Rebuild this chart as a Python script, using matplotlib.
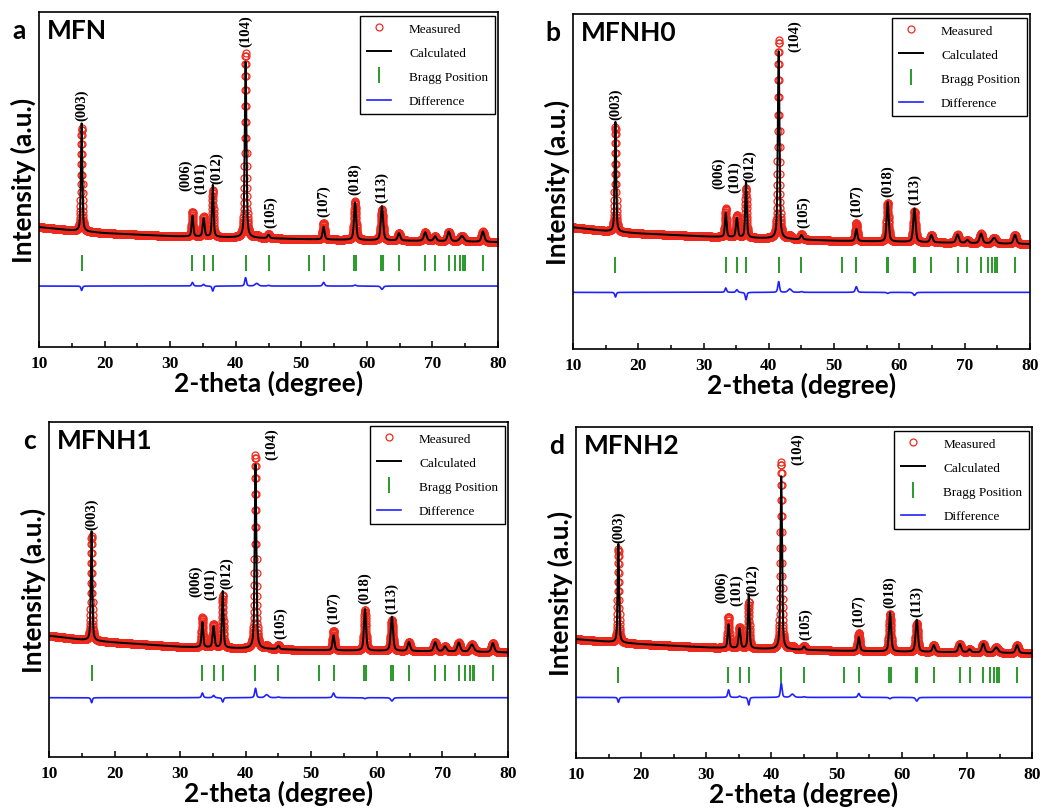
import numpy as np
import matplotlib.pyplot as plt
from matplotlib.ticker import MultipleLocator

# reflections seen in the patterns (2-theta, deg) and their profile widths
peak_pos = [16.5, 33.4, 35.1, 36.5, 41.5, 43.2, 45.0, 53.4, 58.2, 62.3,
            64.9, 68.9, 70.4, 72.5, 74.5, 77.7]
peak_fwhm = [0.26, 0.3, 0.34, 0.28, 0.3, 0.6, 0.4, 0.36, 0.38, 0.42,
             0.45, 0.5, 0.5, 0.5, 0.7, 0.5]
hkl = ['(003)', '(006)', '(101)', '(012)', '(104)', '', '(105)', '(107)',
       '(018)', '(113)', '', '', '', '', '', '']

# allowed Bragg reflections (tick marks)
bragg_pos = [16.5, 33.4, 35.1, 36.5, 41.5, 45.0, 51.2, 53.4, 58.1, 58.3,
             62.2, 62.4, 64.9, 68.9, 70.4, 72.5, 73.5, 74.2, 74.6, 74.9, 77.7]

# background level at these 2-theta values
bg_x = [10, 15, 20, 30, 40, 50, 60, 70, 80]

samples = ['MFN', 'MFNH0', 'MFNH1', 'MFNH2']
letters = ['a', 'b', 'c', 'd']

bg_mfn = [358, 348, 340, 331, 327, 322, 319, 316, 313]
bg_mfnh0 = [363, 352, 345, 336, 330, 323, 320, 316, 313]
bg_mfnh1 = [362, 350, 342, 329, 324, 319, 317, 315, 312]
bg_mfnh2 = [359, 351, 344, 334, 329, 324, 321, 319, 316]

# peak heights above background, observed
meas_mfn = [309, 73, 60, 140, 550, 8, 12, 49, 115, 92, 22, 26, 14, 29, 17, 31]
meas_mfnh0 = [314, 85, 66, 147, 592, 10, 15, 53, 115, 91, 22, 25, 9, 29, 17, 27]
meas_mfnh1 = [311, 89, 70, 156, 578, 9, 12, 59, 121, 92, 27, 27, 15, 27, 22, 27]
meas_mfnh2 = [283, 94, 64, 141, 565, 10, 12, 54, 114, 86, 21, 25, 9, 27, 16, 24]

# peak heights above background, refined model
calc_mfn = [322, 62, 55, 155, 525, 0, 10, 38, 112, 102, 22, 26, 14, 29, 17, 31]
calc_mfnh0 = [328, 72, 58, 169, 560, 0, 13, 36, 118, 100, 22, 25, 9, 29, 17, 27]
calc_mfnh1 = [326, 75, 63, 169, 550, 0, 10, 45, 124, 102, 27, 27, 15, 27, 22, 27]
calc_mfnh2 = [298, 71, 60, 164, 523, 0, 10, 42, 118, 97, 21, 25, 9, 27, 16, 24]

diff_level = [182, 169, 177, 183]
bragg_level = 250

panels = list(zip(samples, letters,
                  [bg_mfn, bg_mfnh0, bg_mfnh1, bg_mfnh2],
                  [meas_mfn, meas_mfnh0, meas_mfnh1, meas_mfnh2],
                  [calc_mfn, calc_mfnh0, calc_mfnh1, calc_mfnh2],
                  diff_level))

rects = [[0.0373, 0.5714, 0.4388, 0.4126],
         [0.5478, 0.5690, 0.4369, 0.4126],
         [0.0468, 0.0665, 0.4388, 0.4126],
         [0.5507, 0.0653, 0.4360, 0.4076]]

tth = np.arange(10, 80.001, 0.02)


def profile(heights, bg):
    y = np.interp(tth, bg_x, bg).astype(float)
    for p, w, h in zip(peak_pos, peak_fwhm, heights):
        g = np.exp(-4 * np.log(2) * (tth - p) ** 2 / w ** 2)
        l = 1 / (1 + 4 * (tth - p) ** 2 / w ** 2)
        y += h * (0.5 * g + 0.5 * l)
    return y


sans = ['Lato', 'DejaVu Sans']
serif = ['Liberation Serif', 'DejaVu Serif']

fig = plt.figure(figsize=(10.46, 8.12), dpi=100)

for i, (name, letter, bg, meas, calc, dlev) in enumerate(panels):
    ax = fig.add_axes(rects[i])
    y_obs = profile(meas, bg)
    y_cal = profile(calc, bg)

    ax.plot(tth, y_obs, ls='none', marker='o', ms=5, mfc='none',
            mec='#ee2a1e', mew=0.9, label='Measured')
    ax.plot(tth, y_cal, color='black', lw=1.4, label='Calculated')
    ax.plot(bragg_pos, [bragg_level] * len(bragg_pos), ls='none', marker='|',
            ms=11, mew=1.4, color='#2a9a2a', label='Bragg Position')
    ax.plot(tth, y_obs - y_cal + dlev, color='#1f22ff', lw=1.2,
            label='Difference')

    # Miller indices above the peaks
    bg_at = np.interp(peak_pos, bg_x, bg)
    top012 = bg_at[3] + meas[3] + 8
    for j, lab in enumerate(hkl):
        if not lab:
            continue
        top = bg_at[j] + meas[j] + 8
        x, y, va = peak_pos[j], top + 14, 'bottom'
        if lab == '(006)':
            x, y = peak_pos[j] - 1.1, top012 - 8
        elif lab == '(101)':
            x, y = peak_pos[j] - 0.4, top012 - 18
        elif lab == '(012)':
            x = peak_pos[j] + 0.6
        elif lab == '(105)':
            x = peak_pos[j] + 0.3
        elif lab == '(104)' and i > 0:
            x, y, va = peak_pos[j] + 2.5, 985, 'top'
        ax.text(x, y, lab, rotation=90, ha='center', va=va,
                family=serif, fontweight='bold', fontsize=10.5)

    ax.set_xlim(10, 80)
    ax.set_ylim(0, 1000)
    ax.set_yticks([])
    ax.xaxis.set_major_locator(MultipleLocator(10))
    ax.xaxis.set_minor_locator(MultipleLocator(5))
    ax.tick_params(axis='x', which='both', direction='in', pad=6)
    ax.tick_params(axis='x', which='major', length=4, width=1.1)
    ax.tick_params(axis='x', which='minor', length=3, width=1.1)
    for t in ax.get_xticklabels():
        t.set_family(serif)
        t.set_fontweight('bold')
        t.set_fontsize(12.5)
    for s in ax.spines.values():
        s.set_linewidth(1.2)

    ax.set_xlabel('2-theta (degree)', family=sans, fontweight='bold',
                  fontsize=19, labelpad=-1)
    ax.set_ylabel('Intensity (a.u.)', family=sans, fontweight='bold',
                  fontsize=19, labelpad=2)
    ax.text(0.018, 0.945, name, transform=ax.transAxes, family=sans,
            fontweight='bold', fontsize=19, va='center', ha='left')
    ax.text(-0.043, 0.945, letter, transform=ax.transAxes, family=sans,
            fontweight='bold', fontsize=19, va='center', ha='center')

    leg = ax.legend(loc='upper right', bbox_to_anchor=(0.993, 0.988),
                    borderaxespad=0, fancybox=False, framealpha=1,
                    edgecolor='black', prop={'family': serif, 'size': 9.5},
                    labelspacing=0.9, handlelength=1.8, handletextpad=1.4,
                    borderpad=0.5, markerscale=1.0)
    leg.get_frame().set_linewidth(1.0)

fig.savefig('out.png', dpi=100)
